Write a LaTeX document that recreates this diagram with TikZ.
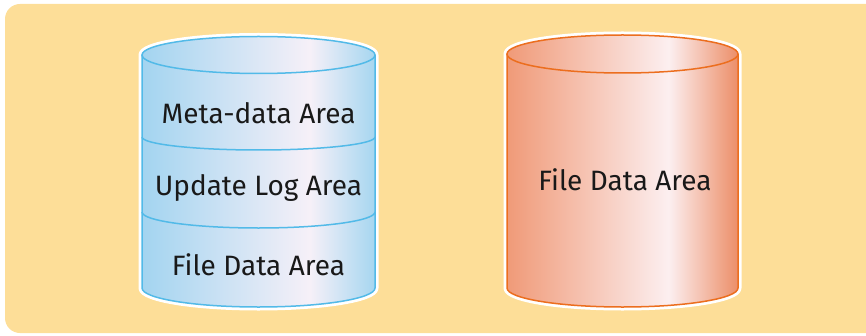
\documentclass[tikz,border=0pt]{standalone}
\usepackage{fontspec}
\setmainfont{Fira Sans}
\usepackage{xcolor}
\usepackage{tikz}
\usetikzlibrary{positioning}
\definecolor{panelsand}{HTML}{FDDE98}
\definecolor{diskblue}{HTML}{52BAE8}
\definecolor{diskblueL}{HTML}{A3D4F0}
\definecolor{diskblueW}{HTML}{F6F0F8}
\definecolor{diskblueR}{HTML}{A6D6F0}
\definecolor{diskorange}{HTML}{EC6E1E}
\definecolor{diskorangeL}{HTML}{F09A78}
\definecolor{diskorangeW}{HTML}{FCEFF0}
\definecolor{diskorangeR}{HTML}{EC8E68}
\pgfdeclarehorizontalshading{blueshade}{100bp}{color(0bp)=(diskblueL); color(25bp)=(diskblueL); color(61bp)=(diskblueW); color(75bp)=(diskblueR); color(100bp)=(diskblueR)}
\pgfdeclarehorizontalshading{orangeshade}{100bp}{color(0bp)=(diskorangeL); color(25bp)=(diskorangeL); color(60bp)=(diskorangeW); color(75bp)=(diskorangeR); color(100bp)=(diskorangeR)}

\begin{document}
\begin{tikzpicture}[x=1pt, y=1pt,
    halo/.style={draw=white, line width=7pt, line join=round},
    rim/.style={line width=1.5pt},
    label/.style={font=\fontsize{28}{32}\selectfont, text=black!90, inner sep=0pt}]
    \useasboundingbox (0,0) rectangle (866,335);
    % Sand panel behind both disks
    \fill[panelsand, rounded corners=15pt] (5,2) rectangle (900,331);

    % Left disk (three areas)
    \draw[halo] (142,280) -- (142,47) arc (180:360:116.5 and 19) -- (375,280) arc (0:180:116.5 and 18.5) -- cycle;
    \shade[shading=blueshade] (142,280) -- (142,47) arc (180:360:116.5 and 19) -- (375,280) arc (0:180:116.5 and 18.5) -- cycle;
    \draw[diskblue, rim] (142,280) -- (142,47) arc (180:360:116.5 and 19) -- (375,280);
    \draw[diskblue, rim, shading=blueshade] (258.5,280) ellipse (116.5 and 18.5);
    \draw[diskblue, rim] (142,198) arc (180:360:116.5 and 13);
    \draw[diskblue, rim] (142,123) arc (180:360:116.5 and 16);

    % Right disk (one area)
    \draw[halo] (507,281) -- (507,47) arc (180:360:115.5 and 19) -- (738,281) arc (0:180:115.5 and 19) -- cycle;
    \shade[shading=orangeshade] (507,281) -- (507,47) arc (180:360:115.5 and 19) -- (738,281) arc (0:180:115.5 and 19) -- cycle;
    \draw[diskorange, rim] (507,281) -- (507,47) arc (180:360:115.5 and 19) -- (738,281);
    \draw[diskorange, rim, shading=orangeshade] (622.5,281) ellipse (115.5 and 19);

    % Area labels
    \node[label] (metaArea) at (258.5,222) {Meta-data Area};
    \node[label] (logArea) at (258.5,147) {Update Log Area};
    \node[label] (fileArea) at (258.5,70) {File Data Area};
    \node[label] (fileAreaB) at (625,155) {File Data Area};
  \end{tikzpicture}
\end{document}
